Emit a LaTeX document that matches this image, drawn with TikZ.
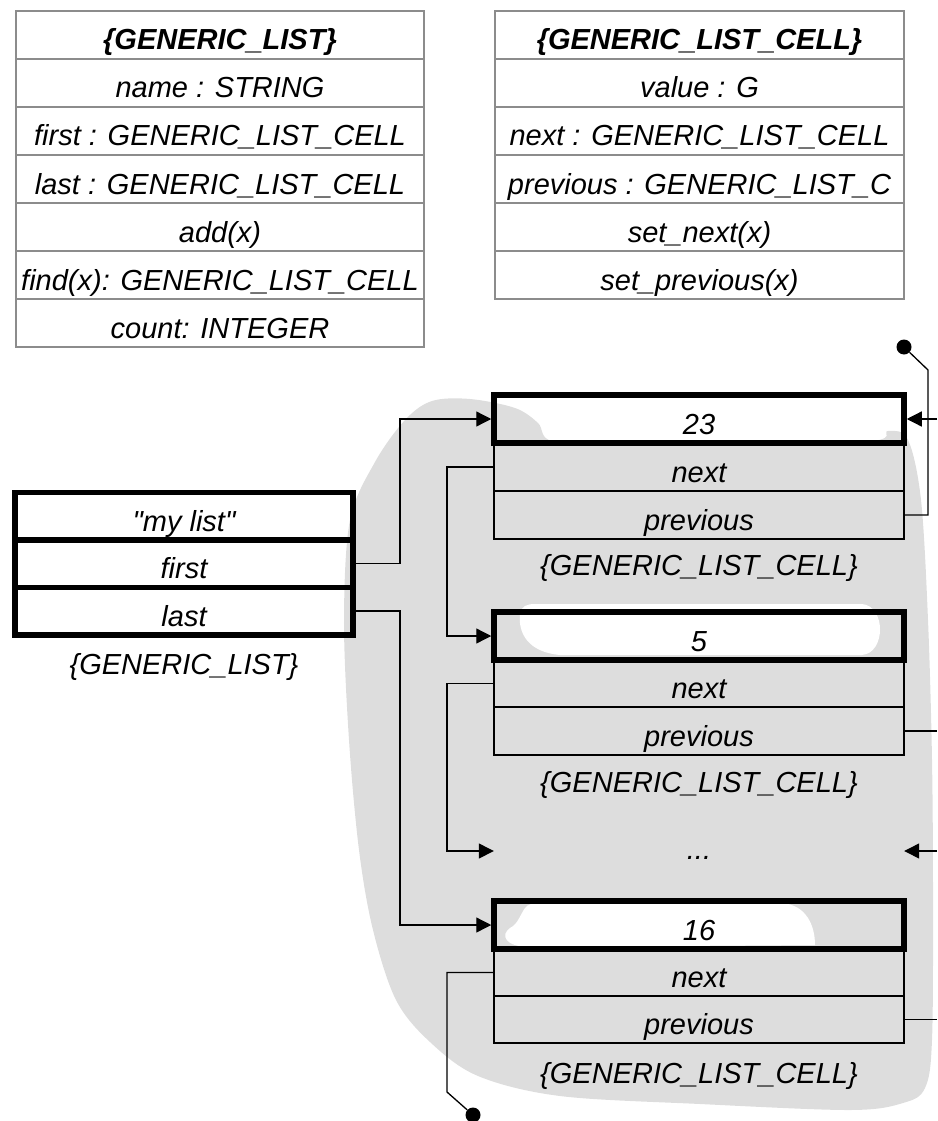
\documentclass[tikz,border=0pt]{standalone}
\usepackage{fontspec}
\setmainfont{Liberation Sans}
\usetikzlibrary{arrows.meta}
\definecolor{tgray}{RGB}{140,140,140}
\definecolor{blobgray}{RGB}{221,221,221}
\newcommand\strquote{\XeTeXglyph\XeTeXcharglyph"0022\relax}
\begin{document}
\begin{tikzpicture}[x=1pt,y=-1pt,
  txt/.style={font=\fontsize{29}{34}\selectfont\itshape, text height=30pt, text depth=0pt, inner sep=0pt},
  trow/.style={txt, draw=tgray, line width=1.5pt, minimum width=408pt, minimum height=48pt},
  trowb/.style={trow, minimum width=409pt},
  crow/.style={txt, draw=black, line width=1.3pt, minimum width=410pt, minimum height=47pt},
  cval/.style={txt, draw=black, line width=5.5pt, minimum width=410pt, minimum height=48pt},
  lrow/.style={txt, draw=black, line width=5.5pt, minimum width=338pt, minimum height=47.5pt},
  lab/.style={font=\fontsize{29}{34}\selectfont\itshape, anchor=base, inner sep=0pt},
  conn/.style={line width=1.3pt},
  arr/.style={conn, -{Triangle[length=15pt,width=15pt]}},
  enddot/.style={circle, fill=black, minimum size=15pt, inner sep=0pt}
]
\useasboundingbox (0,0) rectangle (937,1121);

% gray background blob
\fill[blobgray] plot[smooth cycle, tension=0.55] coordinates {
  (350,520) (375,462) (405,420) (432,401) (470,399) (515,408) (538,423)
  (552,441) (620,442) (860,442) (888,431) (908,440) (921,500) (928,620)
  (932,760) (933,900) (932,1040) (925,1088) (903,1103) (850,1110)
  (700,1104) (560,1096) (478,1076) (430,1042) (396,1000) (373,930)
  (359,850) (349,740) (344,620)};

% white highlights in value rows
\fill[white] (535,604) -- (862,604) .. controls (886,606) and (886,653) .. (862,655)
  -- (560,655) .. controls (527,652) and (518,632) .. (520,614)
  .. controls (521,606) and (527,604) .. (535,604) -- cycle;
\fill[white] (540,903) -- (782,903) .. controls (806,905) and (815,925) .. (815,945)
  -- (530,947) .. controls (505,947) and (500,935) .. (510,928)
  .. controls (518,924) and (520,915) .. (525,908)
  .. controls (528,904) and (533,903) .. (540,903) -- cycle;

% class GENERIC_LIST
\node[trow] (a1) at (220,35)  {\textbf{\{GENERIC\_LIST\}}};
\node[trow] (a2) at (220,83)  {name : STRING};
\node[trow] (a3) at (220,131) {first : GENERIC\_LIST\_CELL};
\node[trow] (a4) at (220,179) {last : GENERIC\_LIST\_CELL};
\node[trow] (a5) at (220,227) {add(x)};
\node[trow] (a6) at (220,275) {find(x): GENERIC\_LIST\_CELL};
\node[trow] (a7) at (220,323) {count: INTEGER};

% class GENERIC_LIST_CELL
\node[trowb] (b1) at (699.5,35)  {\textbf{\{GENERIC\_LIST\_CELL\}}};
\node[trowb] (b2) at (699.5,83)  {value : G};
\node[trowb] (b3) at (699.5,131) {next : GENERIC\_LIST\_CELL};
\node[trowb] (b4) at (699.5,179) {previous : GENERIC\_LIST\_C};
\node[trowb] (b5) at (699.5,227) {set\_next(x)};
\node[trowb] (b6) at (699.5,275) {set\_previous(x)};

% list object
\node[lrow] (lm) at (184,516)   {\strquote my list\strquote};
\node[lrow] (lf) at (184,563.5) {first};
\node[lrow] (ll) at (184,611)   {last};
\node[lab]  (lt) at (184,674)   {\{GENERIC\_LIST\}};

% cell 23
\node[crow, minimum height=48pt] (n23) at (699,467) {next};
\node[crow, minimum height=48pt] (p23) at (699,515) {previous};
\node[cval] (v23) at (699,419) {23};
\node[lab]  (t23) at (699,575) {\{GENERIC\_LIST\_CELL\}};

% cell 5
\node[crow] (n5) at (699,683.5) {next};
\node[crow, minimum height=48pt] (p5) at (699,731) {previous};
\node[cval] (v5) at (699,636) {5};
\node[lab]  (t5) at (699,792) {\{GENERIC\_LIST\_CELL\}};

% ellipsis
\node[txt, text height=16pt, minimum width=410pt, minimum height=20pt] (dots) at (699,851) {...};

% cell 16
\node[crow] (n16) at (699,972.5) {next};
\node[crow] (p16) at (699,1019.5) {previous};
\node[cval] (v16) at (699,925) {16};
\node[lab]  (t16) at (699,1083) {\{GENERIC\_LIST\_CELL\}};

% helper coordinates
\coordinate (bx1) at (400,0);
\coordinate (bx2) at (447,0);
\coordinate (bx3) at (928,0);
\coordinate (k1) at (928,370);
\coordinate (k2) at (447,1092);
\node[enddot] (d1) at (904,347) {};
\node[enddot] (d2) at (473,1115) {};
\coordinate (r1) at (937,419);
\coordinate (r2) at (937,731);
\coordinate (r3) at (937,851);
\coordinate (r4) at (937,1019.5);

% connectors
\draw[arr] (lf.east) -- (lf.east -| bx1) |- (v23.west);
\draw[arr] (ll.east) -- (ll.east -| bx1) |- (v16.west);
\draw[arr] (n23.west) -- (n23.west -| bx2) |- (v5.west);
\draw[arr] (n5.west) -- (n5.west -| bx2) |- (dots.west);
\draw[conn] (n16.west) -- (n16.west -| bx2) -- (k2) -- (d2);
\draw[conn] (p23.east) -- (p23.east -| bx3) -- (k1) -- (d1);
\draw[arr] (r1) -- (v23.east);
\draw[conn] (p5.east) -- (r2);
\draw[arr] (r3) -- (dots.east);
\draw[conn] (p16.east) -- (r4);
\end{tikzpicture}
\end{document}
